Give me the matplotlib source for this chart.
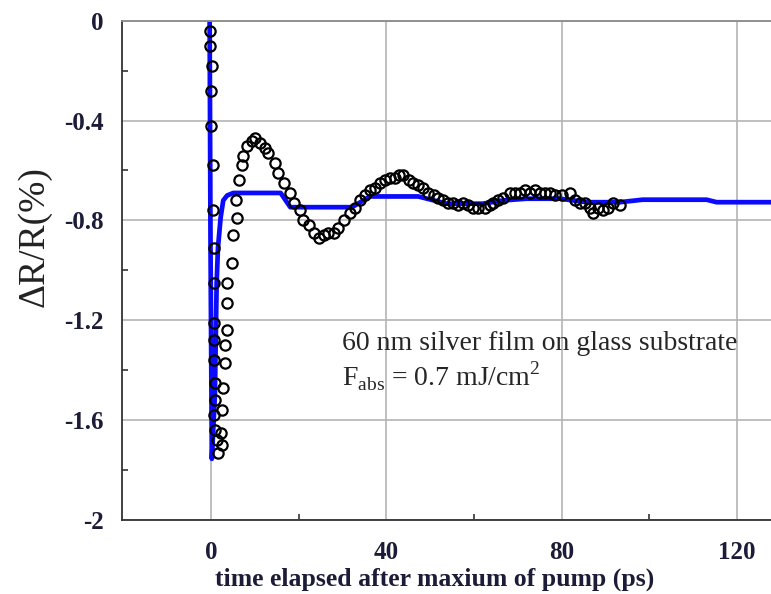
import matplotlib
matplotlib.use("Agg")
import matplotlib.pyplot as plt
from matplotlib.ticker import MultipleLocator, FixedLocator

# Measured reflectivity change (open circles)
t_meas = [-0.3, -0.3, 0.3, -0.1, 0.1, 0.5, 0.5, 0.8, 0.8, 0.8, 0.6, 0.8, 1.0, 1.0, 0.8, 1.0, 1.3, 1.7,
          2.6, 2.2, 2.6, 2.8, 3.1, 3.3, 3.7, 3.7, 3.7, 4.8, 5.1, 6.0, 5.8, 6.3, 7.0, 7.4, 8.3, 9.4,
          10.1, 11.3, 12.4, 13.1, 14.7, 15.4, 16.6, 18.1, 18.9, 20.4, 21.1, 22.3, 23.4, 24.6, 25.7,
          26.8, 28.0, 29.1, 30.3, 31.8, 32.9, 34.1, 35.2, 36.4, 37.5, 38.6, 39.8, 40.9, 42.0, 42.8,
          43.9, 45.1, 46.2, 47.3, 48.5, 49.6, 50.8, 51.9, 53.0, 54.2, 55.3, 56.4, 57.6, 58.7, 59.9,
          61.0, 62.5, 63.7, 64.4, 65.6, 66.7, 68.2, 69.4, 70.5, 71.6, 72.8, 73.9, 75.0, 76.2, 77.3,
          78.5, 80.0, 81.9, 83.0, 84.2, 85.3, 86.4, 87.2, 88.3, 89.5, 90.6, 91.8, 93.3]
r_meas = [-0.04, -0.10, -0.18, -0.28, -0.42, -0.58, -0.76, -0.91, -1.05, -1.21, -1.28, -1.36, -1.45,
          -1.52, -1.58, -1.64, -1.68, -1.73, -1.70, -1.65, -1.56, -1.47, -1.37, -1.30, -1.24, -1.13,
          -1.05, -0.97, -0.86, -0.79, -0.72, -0.64, -0.58, -0.54, -0.50, -0.48, -0.47, -0.49, -0.51,
          -0.53, -0.57, -0.61, -0.65, -0.69, -0.73, -0.76, -0.80, -0.82, -0.85, -0.87, -0.86, -0.85,
          -0.85, -0.83, -0.80, -0.77, -0.75, -0.72, -0.70, -0.68, -0.67, -0.65, -0.64, -0.63, -0.63,
          -0.62, -0.62, -0.64, -0.65, -0.66, -0.67, -0.69, -0.70, -0.71, -0.72, -0.73, -0.73, -0.74,
          -0.73, -0.74, -0.75, -0.75, -0.75, -0.74, -0.73, -0.72, -0.71, -0.69, -0.69, -0.69, -0.68,
          -0.69, -0.68, -0.69, -0.69, -0.69, -0.70, -0.70, -0.69, -0.72, -0.73, -0.73, -0.75, -0.77,
          -0.75, -0.76, -0.75, -0.73, -0.74]

# Simulated curve (blue line)
t_fit = [-0.3, -0.1, 0.2, 0.9, 1.3, 1.6, 2.2, 2.8, 3.7, 5.1, 15.9, 18.1, 32.2, 36.3, 47.3, 53.8,
         62.0, 66.6, 72.0, 79.6, 85.8, 93.3, 98.5, 113.1, 115.4, 128.0]
r_fit = [0.0, -0.90, -1.755, -1.50, -1.05, -0.91, -0.79, -0.72, -0.70, -0.69, -0.69, -0.747, -0.747,
         -0.704, -0.704, -0.733, -0.733, -0.72, -0.713, -0.713, -0.727, -0.727, -0.717, -0.717,
         -0.727, -0.727]

x_major = [0, 40, 80, 120]
x_minor = [20, 60, 100]
y_major = [0, -0.4, -0.8, -1.2, -1.6, -2]
y_labels = ["0", "-0.4", "-0.8", "-1.2", "-1.6", "-2"]

serif = ["Liberation Serif", "DejaVu Serif"]
label_color = "#1c1c38"

fig = plt.figure(figsize=(7.71, 5.94), dpi=100)
ax = fig.add_axes([122 / 771, 74 / 594, 1 - 122 / 771, (520 - 20.7) / 594])

ax.set_xlim(-20.3, 127.8)
ax.set_ylim(-2, 0)

ax.grid(True, which="major", color="#b4b4b4", linewidth=1.2)
ax.set_axisbelow(True)

ax.plot(t_fit, r_fit, color="#0a0aff", linewidth=3.4, solid_capstyle="butt", zorder=2)
ax.plot(t_meas, r_meas, linestyle="none", marker="o", markersize=7.4,
        markerfacecolor="none", markeredgecolor="black", markeredgewidth=1.6, zorder=3)

ax.xaxis.set_major_locator(FixedLocator(x_major))
ax.xaxis.set_minor_locator(FixedLocator(x_minor))
ax.yaxis.set_major_locator(FixedLocator(y_major))
ax.yaxis.set_minor_locator(MultipleLocator(0.2))
ax.set_xticklabels([str(v) for v in x_major])
ax.set_yticklabels(y_labels)

ax.tick_params(axis="y", which="major", length=0, pad=13)
ax.tick_params(axis="x", which="major", length=0, pad=15)
ax.tick_params(axis="both", which="minor", direction="in", length=4.5, width=1.2, color="#333333")
for lab in ax.get_xticklabels() + ax.get_yticklabels():
    lab.set_fontfamily(serif)
    lab.set_fontweight("bold")
    lab.set_fontsize(18)
    lab.set_color(label_color)

for side in ("left", "bottom"):
    ax.spines[side].set_color("#333333")
    ax.spines[side].set_linewidth(1.3)
ax.spines["right"].set_visible(False)
ax.spines["top"].set_color("#8a8a8a")
ax.spines["top"].set_linewidth(1.3)

ax.set_xlabel("time elapsed after maxium of pump (ps)", family=serif, fontweight="bold",
              fontsize=18.5, color=label_color, va="center")
ax.xaxis.set_label_coords((435 - 122) / 649, -(579 - 520) / 499.3)
ax.set_ylabel("ΔR/R(%)", family=serif, fontsize=27, color="#222222", va="center")
ax.yaxis.set_label_coords(-(122 - 34) / 649, (520 - 237) / 499.3)

ax.text(30.0, -1.292, "60 nm silver film on glass substrate", family=serif, fontsize=20,
        color="#262626", va="center", ha="left")
ax.text(30.0, -1.425, r"F$_{\mathregular{abs}}$ = 0.7 mJ/cm$^{\mathregular{2}}$", family=serif,
        fontsize=20, color="#262626", va="center", ha="left")

fig.savefig("out.png", dpi=100)
